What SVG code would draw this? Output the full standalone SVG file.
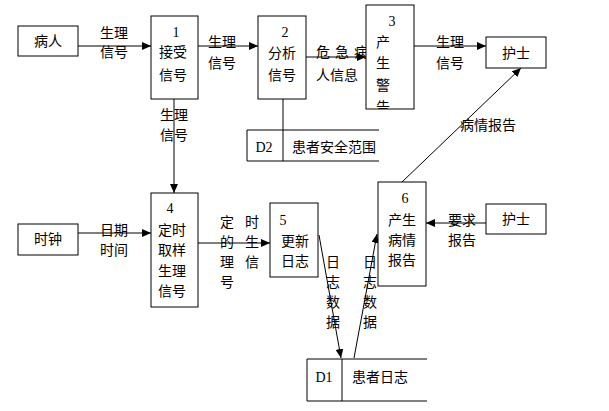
<svg xmlns="http://www.w3.org/2000/svg" width="609" height="411" viewBox="0 0 609 411">
<style>
.box{fill:#fff;stroke:#000;stroke-width:1}
.ln{fill:none;stroke:#000;stroke-width:1}
.t{font-family:"Noto Sans CJK SC","Liberation Sans",sans-serif;font-size:14px;fill:#000}
.c{text-anchor:middle}
.n{font-family:"Liberation Serif",serif;font-size:14px;fill:#000;text-anchor:middle}
</style>
<defs>
<marker id="ah" markerWidth="9" markerHeight="8" refX="9" refY="4" orient="auto" markerUnits="userSpaceOnUse">
<path d="M0,0 L9,4 L0,8 z" fill="#000"/>
</marker>
<clipPath id="clip3"><rect x="366" y="5" width="48" height="104"/></clipPath>
<clipPath id="clipL"><rect x="300" y="40" width="66" height="24"/></clipPath>
</defs>
<rect width="609" height="411" fill="#fff"/>
<g id="connectors">
<line class="ln" x1="78" y1="46" x2="151" y2="46" marker-end="url(#ah)"/>
<line class="ln" x1="198" y1="46" x2="258" y2="46" marker-end="url(#ah)"/>
<line class="ln" x1="306" y1="57" x2="366" y2="57" marker-end="url(#ah)"/>
<line class="ln" x1="414" y1="46" x2="486" y2="46" marker-end="url(#ah)"/>
<line class="ln" x1="402" y1="182" x2="521" y2="68" marker-end="url(#ah)"/>
<line class="ln" x1="174" y1="99" x2="174" y2="193" marker-end="url(#ah)"/>
<line class="ln" x1="283" y1="99" x2="283" y2="130"/>
<line class="ln" x1="78" y1="233" x2="151" y2="233" marker-end="url(#ah)"/>
<line class="ln" x1="198" y1="243" x2="270" y2="243" marker-end="url(#ah)"/>
<line class="ln" x1="319" y1="235" x2="341" y2="358" marker-end="url(#ah)"/>
<line class="ln" x1="354" y1="358" x2="377" y2="234" marker-end="url(#ah)"/>
<line class="ln" x1="486" y1="223" x2="426" y2="223" marker-end="url(#ah)"/>
<text class="t" x="100" y="38">生理</text>
<text class="t" x="100" y="57">信号</text>
<text class="t" x="208" y="47">生理</text>
<text class="t" x="208" y="68">信号</text>
<text class="t" x="316" y="57" letter-spacing="5" clip-path="url(#clipL)">危急病</text>
<text class="t" x="316" y="80">人信息</text>
<text class="t" x="436" y="47">生理</text>
<text class="t" x="436" y="68">信号</text>
<text class="t" x="460" y="130">病情报告</text>
<text class="t" x="160" y="120">生理</text>
<text class="t" x="160" y="140">信号</text>
<text class="t" x="100" y="235">日期</text>
<text class="t" x="100" y="255">时间</text>
<text class="t c" x="227" y="227">定</text>
<text class="t c" x="227" y="247">的</text>
<text class="t c" x="227" y="267">理</text>
<text class="t c" x="227" y="287">号</text>
<text class="t c" x="252" y="227">时</text>
<text class="t c" x="252" y="247">生</text>
<text class="t c" x="252" y="267">信</text>
<text class="t c" x="333" y="267">日</text>
<text class="t c" x="333" y="287">志</text>
<text class="t c" x="333" y="307">数</text>
<text class="t c" x="333" y="327">据</text>
<text class="t c" x="370" y="267">日</text>
<text class="t c" x="370" y="287">志</text>
<text class="t c" x="370" y="307">数</text>
<text class="t c" x="370" y="327">据</text>
<text class="t" x="448" y="225">要求</text>
<text class="t" x="448" y="245">报告</text>
</g>
<g id="patient">
<rect class="box" x="18" y="26" width="60" height="30"/>
<text class="t c" x="48" y="46">病人</text>
</g>
<g id="p1">
<rect class="box" x="151" y="16" width="47" height="83"/>
<text class="n" x="176" y="37">1</text>
<text class="t c" x="173" y="57">接受</text>
<text class="t c" x="173" y="80">信号</text>
</g>
<g id="p2">
<rect class="box" x="258" y="16" width="48" height="83"/>
<text class="n" x="285" y="37">2</text>
<text class="t c" x="282" y="58">分析</text>
<text class="t c" x="282" y="80">信号</text>
</g>
<g id="p3">
<rect class="box" x="366" y="5" width="48" height="104"/>
<text class="n" x="392" y="26">3</text>
<g clip-path="url(#clip3)">
<text class="t" x="376" y="47">产</text>
<text class="t" x="376" y="68">生</text>
<text class="t" x="376" y="90">警</text>
<text class="t" x="376" y="112">告</text>
</g>
</g>
<g id="nurse1">
<rect class="box" x="486" y="37" width="60" height="31"/>
<text class="t c" x="516" y="58">护士</text>
</g>
<g id="d2">
<path class="ln" d="M379,130 H247 V161 H379 M283,130 V161"/>
<text class="n" x="264" y="152">D2</text>
<text class="t" x="292" y="152">患者安全范围</text>
</g>
<g id="clock">
<rect class="box" x="18" y="224" width="60" height="31"/>
<text class="t c" x="48" y="244">时钟</text>
</g>
<g id="p4">
<rect class="box" x="151" y="193" width="47" height="114"/>
<text class="n" x="170" y="213">4</text>
<text class="t c" x="172" y="235">定时</text>
<text class="t c" x="172" y="255">取样</text>
<text class="t c" x="172" y="276">生理</text>
<text class="t c" x="172" y="296">信号</text>
</g>
<g id="p5">
<rect class="box" x="270" y="203" width="48" height="74"/>
<text class="n" x="283" y="225">5</text>
<text class="t c" x="295" y="246">更新</text>
<text class="t c" x="295" y="266">日志</text>
</g>
<g id="p6">
<rect class="box" x="378" y="182" width="48" height="104"/>
<text class="n" x="405" y="203">6</text>
<text class="t c" x="402" y="225">产生</text>
<text class="t c" x="402" y="245">病情</text>
<text class="t c" x="402" y="265">报告</text>
</g>
<g id="nurse2">
<rect class="box" x="486" y="204" width="60" height="30"/>
<text class="t c" x="516" y="224">护士</text>
</g>
<g id="d1">
<path class="ln" d="M427,359 H307 V401 H427 M342,359 V401"/>
<text class="n" x="324" y="382">D1</text>
<text class="t" x="352" y="382">患者日志</text>
</g>
</svg>
